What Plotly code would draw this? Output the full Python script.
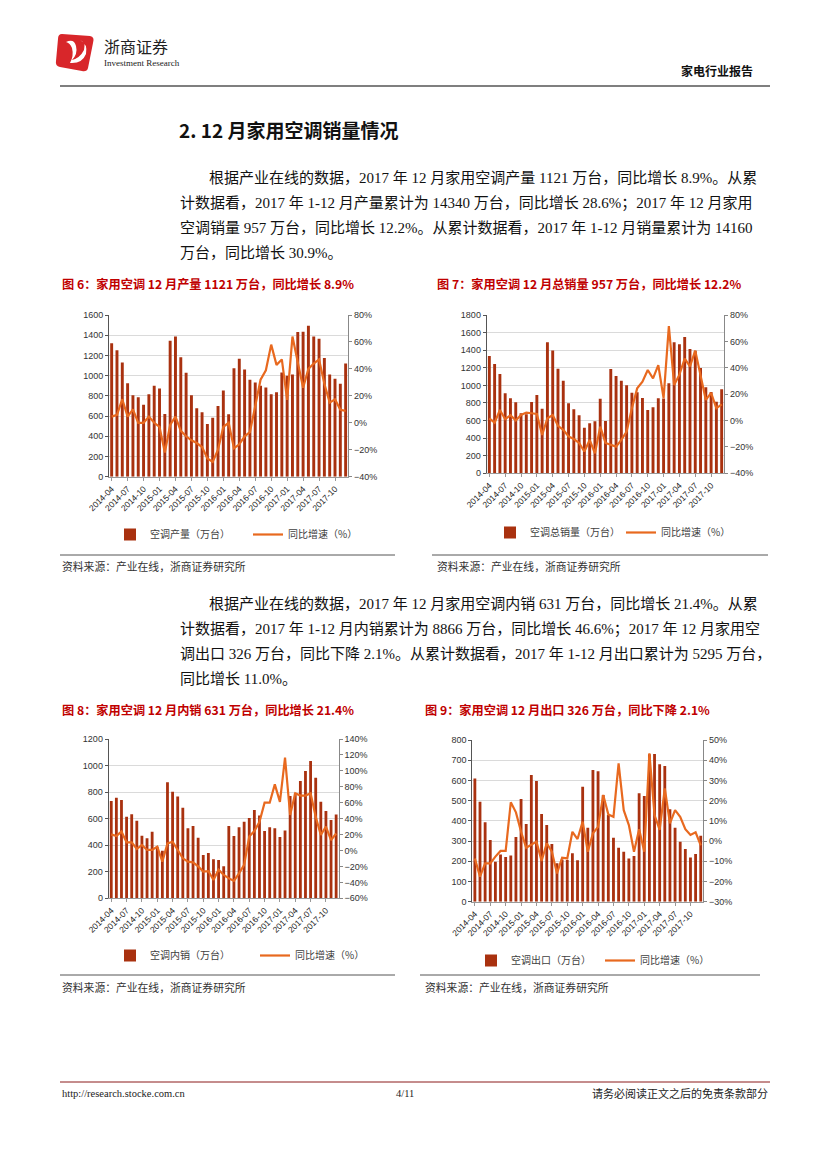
import plotly.graph_objects as go

W, H = 827, 1169

months = ["2014-04","2014-05","2014-06","2014-07","2014-08","2014-09","2014-10","2014-11","2014-12",
          "2015-01","2015-02","2015-03","2015-04","2015-05","2015-06","2015-07","2015-08","2015-09",
          "2015-10","2015-11","2015-12","2016-01","2016-02","2016-03","2016-04","2016-05","2016-06",
          "2016-07","2016-08","2016-09","2016-10","2016-11","2016-12","2017-01","2017-02","2017-03",
          "2017-04","2017-05","2017-06","2017-07","2017-08","2017-09","2017-10","2017-11","2017-12"]
tick_months = ["2014-04","2014-07","2014-10","2015-01","2015-04","2015-07","2015-10","2016-01",
               "2016-04","2016-07","2016-10","2017-01","2017-04","2017-07","2017-10"]

# Fig 6: production (10k units) and YoY (%)
prod = [1320,1250,1130,925,806,787,711,816,899,872,621,1345,1388,1183,1028,806,678,637,
        522,584,700,853,618,1074,1167,1061,959,932,899,883,816,836,1031,1000,1011,1431,
        1435,1494,1388,1365,1174,1011,969,919,1121]
prod_yoy = [4.6,5.9,17.5,4.6,10,0,0,4.6,0,-3,-22,-1.6,4.6,-6,-10,-13,-15,-18,
            -26.5,-29,-20,-3,0,-19,-16,-10,-7,12,32,39,58,43,47,17,64,45,
            26,40,44,47,29,15,17.5,9.6,8.9]

# Fig 7: total sales
sales = [1334,1243,1129,909,853,807,682,671,811,891,735,1489,1395,1190,1053,796,728,659,
         519,568,591,849,595,1186,1107,1053,1000,917,921,856,720,750,853,850,1023,1489,
         1467,1550,1414,1394,1197,978,925,815,957]
sales_yoy = [1.7,-1.6,8,1,4,0,4.2,6,5.5,5,-11,1.7,4.2,-4,-7,-12,-14,-17,
             -23.5,-14.7,-24.8,-4.6,-17,-18.5,-19.8,-14.7,-8.4,9.3,24.4,29.5,38.3,32,42,17,71.6,27,
             34.8,47,41,53,33,15.6,21,9.3,12.2]

# Fig 8: domestic sales
dom = [733,758,741,615,633,585,472,452,502,389,359,874,803,766,683,527,545,457,
       326,341,294,289,241,545,469,535,577,605,665,623,507,535,527,462,510,771,
       791,884,959,1034,909,728,658,590,631]
dom_yoy = [20.3,18.3,23.7,10.3,10.3,1.9,7,0.7,0.7,4.9,-14,9,11,0.7,-9.8,-14,-14.8,-20,
           -26.5,-25.8,-37,-24,-30.7,-35,-38,-28.6,-18,17.5,24.4,36,60,60,83,61,116.6,44.6,
           71.8,69,69,71.8,42.5,19.5,30,13,21.4]

# Fig 9: exports
exp_ = [610,495,393,305,198,234,221,228,320,508,384,627,597,434,379,285,190,209,
        206,240,205,569,366,651,646,528,429,317,267,247,214,226,536,523,729,731,
        680,671,457,366,297,261,219,236,326]
exp_yoy = [-8.6,-17.6,-11,-11,-7.7,-4.9,-4.9,19.2,14.2,4.6,-3.3,-1.6,-0.3,-9.9,-1.1,-5.3,-16,-8.2,
           -8.6,4.6,1,9.6,-5.3,3.8,7,22.8,13.2,12,38.4,15.3,7.9,-5.3,5.9,-5.3,43.4,12.9,
           5.5,26,8.8,15.3,12,5.9,3,4.3,-2.1]

bar_names = ["空调产量（万台）", "空调总销量（万台）", "空调内销（万台）", "空调出口（万台）"]
line_name = "同比增速（%）"

BAR_C = "#A9310F"
LINE_C = "#E8691F"
CJK = "Noto Sans CJK SC"
SERIF = "Liberation Serif, Noto Sans CJK SC"
TICKF = "Liberation Sans"

def X(px): return px / W
def Y(py): return 1 - py / H

fig = go.Figure()

charts = [
    (prod, prod_yoy, bar_names[0], 109, 348.3, 315, 476.7, [0,1600], 200, [-40,80], 20, (110, 520), 93),
    (sales, sales_yoy, bar_names[1], 486.7, 724.3, 315, 473.3, [0,1800], 200, [-40,80], 20, (490, 518), 86),
    (dom, dom_yoy, bar_names[2], 108.7, 338.7, 739, 898.3, [0,1200], 200, [-60,140], 20, (110, 941), 100),
    (exp_, exp_yoy, bar_names[3], 472.3, 703.3, 740, 901.7, [0,800], 100, [-30,50], 10, (471, 946), 84),
]

layout_axes = {}
for i, (bars, yoy, bname, x0, x1, yt, yb, lr, ld, rr, rd, lg, ew) in enumerate(charts):
    xa = "x" if i == 0 else f"x{i+1}"
    yl = f"y{2*i+1}" if i > 0 else "y"
    yr = f"y{2*i+2}"
    leg = "legend" if i == 0 else f"legend{i+1}"
    fig.add_trace(go.Bar(x=months, y=bars, name=bname, marker=dict(color=BAR_C, line=dict(width=0)),
                         xaxis=xa, yaxis=yl, legend=leg))
    fig.add_trace(go.Scatter(x=months, y=yoy, name=line_name, mode="lines",
                             line=dict(color=LINE_C, width=2.2), xaxis=xa, yaxis=yr, legend=leg))
    xkey = "xaxis" if i == 0 else f"xaxis{i+1}"
    ylkey = "yaxis" if i == 0 else f"yaxis{2*i+1}"
    yrkey = f"yaxis{2*i+2}"
    layout_axes[xkey] = dict(domain=[X(x0), X(x1)], anchor=yl, type="category",
                             categoryorder="array", categoryarray=months,
                             tickmode="array", tickvals=tick_months, ticktext=tick_months,
                             tickangle=-45, tickfont=dict(family=TICKF, size=8.5, color="#222"),
                             showline=True, linecolor="#999", linewidth=1,
                             ticks="outside", ticklen=3, tickcolor="#999", automargin=False,
                             showgrid=False, range=[-0.5, len(months)-0.5])
    layout_axes[ylkey] = dict(domain=[Y(yb), Y(yt)], anchor=xa, range=lr, dtick=ld,
                              tickfont=dict(family=TICKF, size=9, color="#333"),
                              showline=True, linecolor="#555", linewidth=1, automargin=False,
                              ticks="outside", ticklen=3, tickcolor="#555",
                              showgrid=True, gridcolor="#DADADA", gridwidth=1, zeroline=False)
    layout_axes[yrkey] = dict(overlaying=yl, side="right", anchor=xa, range=rr, dtick=rd,
                              ticksuffix="%", tickfont=dict(family=TICKF, size=9, color="#333"),
                              showline=True, linecolor="#888", linewidth=1, automargin=False,
                              ticks="outside", ticklen=3, tickcolor="#888",
                              showgrid=False, zeroline=False)
    layout_axes[leg] = dict(x=X(lg[0]), y=Y(lg[1]), xanchor="left", yanchor="top",
                            orientation="h", font=dict(family=CJK, size=10, color="#404040"),
                            bgcolor="rgba(0,0,0,0)", entrywidth=ew, itemwidth=30,
                            tracegroupgap=0)

fig.update_layout(**layout_axes)
fig.update_layout(width=W, height=H, margin=dict(l=0, r=0, t=0, b=0, pad=0, autoexpand=False),
                  paper_bgcolor="white", plot_bgcolor="white",
                  bargap=0.45, showlegend=True)

ann = []
def txt(px, py, s, size, color="#111", family=CJK, anchor="left", bold=False):
    if bold:
        s = "<b>" + s + "</b>"
    ann.append(dict(x=X(px), y=Y(py), xref="paper", yref="paper", text=s, showarrow=False,
                    xanchor=anchor, yanchor="middle", font=dict(family=family, size=size, color=color)))

# header
txt(102, 46, "浙商证券", 16, "#222", CJK)
txt(102, 63, "Investment Research", 9, "#222", "Liberation Serif")
txt(755, 70, "家电行业报告", 12, "#111", CJK, anchor="right", bold=True)

# heading
txt(177, 130, "2. 12 月家用空调销量情况", 19, "#111", CJK, bold=True)

para1 = ["根据产业在线的数据，2017 年 12 月家用空调产量 1121 万台，同比增长 8.9%。从累",
         "计数据看，2017 年 1-12 月产量累计为 14340 万台，同比增长 28.6%；2017 年 12 月家用",
         "空调销量 957 万台，同比增长 12.2%。从累计数据看，2017 年 1-12 月销量累计为 14160",
         "万台，同比增长 30.9%。"]
para2 = ["根据产业在线的数据，2017 年 12 月家用空调内销 631 万台，同比增长 21.4%。从累",
         "计数据看，2017 年 1-12 月内销累计为 8866 万台，同比增长 46.6%；2017 年 12 月家用空",
         "调出口 326 万台，同比下降 2.1%。从累计数据看，2017 年 1-12 月出口累计为 5295 万台，",
         "同比增长 11.0%。"]
for k, line in enumerate(para1):
    txt(207 if k == 0 else 178, 178 + 25 * k, line, 15, "#111", SERIF)
for k, line in enumerate(para2):
    txt(207 if k == 0 else 178, 604 + 25 * k, line, 15, "#111", SERIF)

RED = "#C00000"
txt(60, 284, "图 6：家用空调 12 月产量 1121 万台，同比增长 8.9%", 12.2, RED, CJK, bold=True)
txt(435, 284, "图 7：家用空调 12 月总销量 957 万台，同比增长 12.2%", 12.2, RED, CJK, bold=True)
txt(60, 710, "图 8：家用空调 12 月内销 631 万台，同比增长 21.4%", 12.2, RED, CJK, bold=True)
txt(423, 710, "图 9：家用空调 12 月出口 326 万台，同比下降 2.1%", 12.2, RED, CJK, bold=True)

src = "资料来源：产业在线，浙商证券研究所"
txt(60, 566, src, 10.8, "#333", CJK)
txt(435, 566, src, 10.8, "#333", CJK)
txt(60, 987, src, 10.8, "#333", CJK)
txt(423, 987, src, 10.8, "#333", CJK)

# footer
txt(60, 1093, "http://research.stocke.com.cn", 10.5, "#222", "Liberation Serif")
txt(405, 1093, "4/11", 10.5, "#222", "Liberation Serif", anchor="center")
txt(770, 1093, "请务必阅读正文之后的免责条款部分", 11, "#222", CJK, anchor="right")

fig.update_layout(annotations=ann)

shapes = []
def hline(x0, x1, y, color, w):
    shapes.append(dict(type="line", xref="paper", yref="paper", x0=X(x0), x1=X(x1), y0=Y(y), y1=Y(y),
                       line=dict(color=color, width=w)))
hline(60, 770, 86, "#555", 1.5)
hline(60, 395, 555, "#555", 1)
hline(432, 768, 555, "#555", 1)
hline(60, 395, 975, "#555", 1)
hline(420, 760, 975, "#555", 1)
hline(60, 770, 1082, "#8B1A1A", 1)

# logo (approximate)
def P(px, py): return f"{X(px)},{Y(py)}"
shapes.append(dict(type="path", xref="paper", yref="paper",
                   path=f"M {P(62,34)} L {P(90,36)} Q {P(95,37)} {P(93,43)} L {P(88,68)} Q {P(87,72)} {P(82,71)} "
                        f"L {P(60,67)} Q {P(55,66)} {P(56,61)} L {P(58,39)} Q {P(58,34)} {P(62,34)} Z",
                   fillcolor="#D8262A", line=dict(width=0)))
shapes.append(dict(type="path", xref="paper", yref="paper",
                   path=f"M {P(66,42)} Q {P(74,38)} {P(76,46)} Q {P(78,54)} {P(72,60)} Q {P(80,58)} {P(84,50)} "
                        f"Q {P(86,42)} {P(80,40)} Q {P(88,44)} {P(86,54)} Q {P(82,64)} {P(70,63)} "
                        f"Q {P(74,56)} {P(72,48)} Q {P(70,43)} {P(66,42)} Z",
                   fillcolor="white", line=dict(width=0)))
fig.update_layout(shapes=shapes)

fig.write_html("out.html", config={"displayModeBar": False},
               post_script="document.body.style.margin='0px';")
